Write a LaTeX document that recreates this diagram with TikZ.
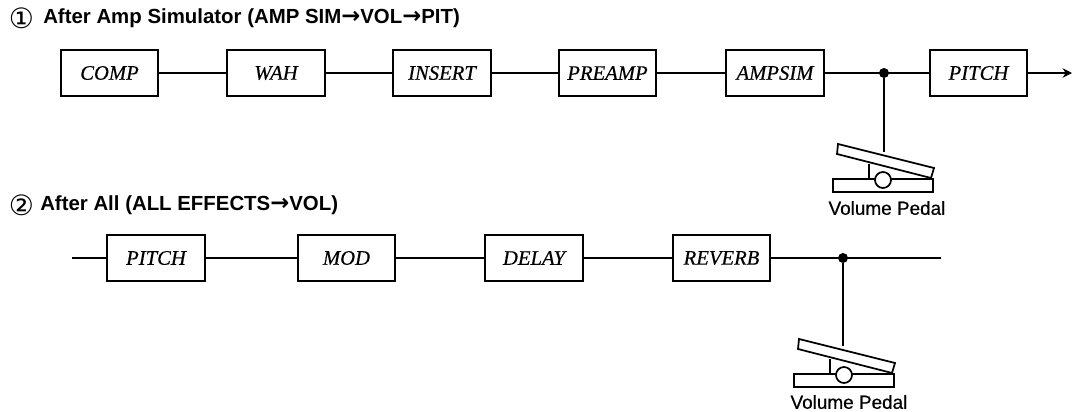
\documentclass[tikz,border=0pt]{standalone}
\usepackage{fontspec}
\setmainfont{Liberation Serif}[ItalicFeatures={FakeBold=0.4}]
\newfontfamily\lblfont{Liberation Sans}
\newfontfamily\capfont{Liberation Sans}[FakeBold=0.5]
\newfontfamily\symfont{DejaVu Sans}
\usetikzlibrary{arrows.meta}
\newcommand{\arr}{{\symfont\bfseries\fontsize{17}{17}\selectfont →}}
\tikzset{
  fx/.style={draw,line width=1.3pt,minimum width=73pt,minimum height=34pt,inner sep=0pt,font=\fontsize{15.5}{17}\selectfont\itshape},
  wire/.style={line width=1.3pt},
  dot/.style={circle,fill=black,inner sep=0pt,minimum size=7.5pt},
  title/.style={anchor=west,inner sep=0pt,font=\lblfont\bfseries\fontsize{15.3}{17}\selectfont},
  num/.style={inner sep=0pt,font=\symfont\fontsize{21}{21}\selectfont},
  caption/.style={inner sep=0pt,font=\capfont\fontsize{14.2}{16}\selectfont},
  pedal/.pic={
    \draw[line width=1.3pt] (-45,-36) -- (51,-12) -- (48,-2) -- (-46,-26) -- cycle;
    \draw[line width=1.3pt] (-50,-1) rectangle (50,12);
    \draw[line width=1.3pt] (-14,-16) -- (-14,-1);
    \draw[line width=1.3pt,fill=white] (0,0) circle (8);
  }
}
\begin{document}
\begin{tikzpicture}[x=0.75pt,y=-0.75pt]
\useasboundingbox (0,0) rectangle (1072,411);
\node[num] (n1) at (21.5,18) {①};
\node[title] (t1) at (43,18) {After Amp Simulator (AMP SIM\arr VOL\arr PIT)};
\node[num] (n2) at (21.5,205) {②};
\node[title] (t2) at (40,205) {After All (ALL EFFECTS\arr VOL)};

\node[fx] (comp) at (109.5,73) {COMP};
\node[fx] (wah) at (276,73) {WAH};
\node[fx] (insert) at (442,73) {INSERT};
\node[fx] (preamp) at (607.5,73) {PREAMP};
\node[fx] (ampsim) at (775,73) {AMPSIM};
\node[fx] (pitcha) at (978.5,73) {PITCH};
\coordinate (j1) at (884,73);
\node[dot] (d1) at (j1) {};
\coordinate (p1) at (884,152);
\coordinate (outa) at (1072,73);
\draw[wire] (comp) -- (wah);
\draw[wire] (wah) -- (insert);
\draw[wire] (insert) -- (preamp);
\draw[wire] (preamp) -- (ampsim);
\draw[wire] (ampsim) -- (pitcha);
\draw[wire,-{Stealth[length=7pt,width=7pt]}] (pitcha) -- (outa);
\draw[wire] (d1) -- (p1);
\pic at (883,180) {pedal};
\node[caption] (v1) at (887,208) {Volume Pedal};

\coordinate (ina) at (72,258);
\node[fx] (pitchb) at (156,258) {PITCH};
\node[fx] (mod) at (346.5,258) {MOD};
\node[fx] (delay) at (534,258) {DELAY};
\node[fx] (reverb) at (721.5,258) {REVERB};
\coordinate (j2) at (843,258);
\node[dot] (d2) at (j2) {};
\coordinate (outb) at (941,258);
\coordinate (p2) at (843,346);
\draw[wire] (ina) -- (pitchb);
\draw[wire] (pitchb) -- (mod);
\draw[wire] (mod) -- (delay);
\draw[wire] (delay) -- (reverb);
\draw[wire] (reverb) -- (outb);
\draw[wire] (d2) -- (p2);
\pic at (844,375) {pedal};
\node[caption] (v2) at (849,402) {Volume Pedal};
\end{tikzpicture}
\end{document}
